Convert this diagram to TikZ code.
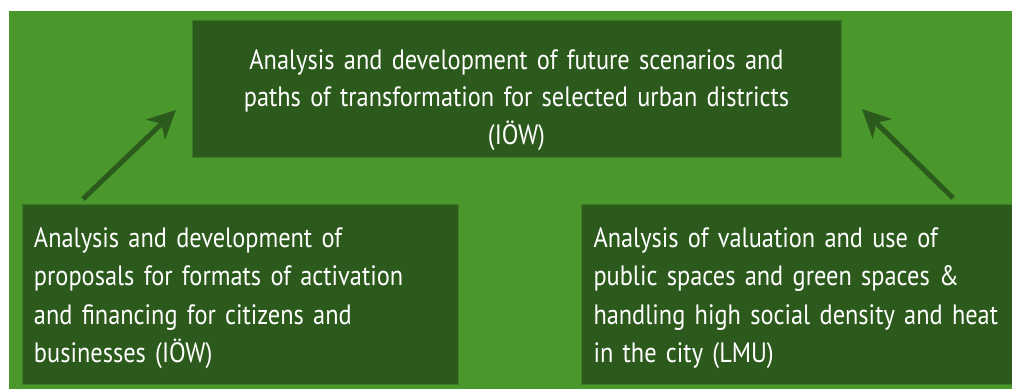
\documentclass[tikz,border=0pt]{standalone}
\usepackage{fontspec}
\setmainfont{PT Sans}[FakeStretch=0.87, WordSpace=0.45]
\usetikzlibrary{arrows.meta}
\definecolor{bggreen}{HTML}{4A982C}
\definecolor{boxgreen}{HTML}{2C5A1C}
\definecolor{edgegreen}{HTML}{3C7C26}
\newcommand{\firststrut}[1]{\rule{0pt}{#1}}
\tikzset{
  box/.style={fill=boxgreen, draw=edgegreen, line width=1pt, text=white,
    inner xsep=12pt, inner ysep=0pt, font=\fontsize{28}{38.5}\selectfont},
  conn/.style={draw=boxgreen, line width=5pt,
    -{Stealth[length=28pt,width=27pt,inset=8pt]}}
}
\begin{document}
\begin{tikzpicture}[x=1pt,y=-1pt]
\useasboundingbox (0,0) rectangle (1012,390);
\fill[bggreen] (9,11) rectangle (1012,389);
\node[box, minimum width=649pt, minimum height=137pt, text width=625pt, align=center,
  font=\fontsize{28}{37.7}\selectfont]
  (top) at (516.5,89.5)
  {\firststrut{41pt}Analysis and development of future scenarios and\\
   paths of transformation for selected urban districts\\
   (IÖW)};
\node[box, minimum width=436pt, minimum height=179pt, text width=412pt, align=left]
  (left) at (240,294.5)
  {\firststrut{27pt}Analysis and development of\\
   proposals for formats of activation\\
   and financing for citizens and\\
   businesses (IÖW)};
\node[box, anchor=west, minimum width=440pt, minimum height=179pt, text width=416pt, align=left]
  (right) at (581,294.5)
  {\firststrut{27pt}Analysis of valuation and use of\\
   public spaces and green spaces \&\\
   handling high social density and heat\\
   in the city (LMU)};
\coordinate (ls) at (83,199);
\coordinate (le) at (176,110);
\coordinate (rs) at (953,198);
\coordinate (re) at (862,109);
\draw[conn] (ls) -- (le);
\draw[conn] (rs) -- (re);
\end{tikzpicture}
\end{document}
